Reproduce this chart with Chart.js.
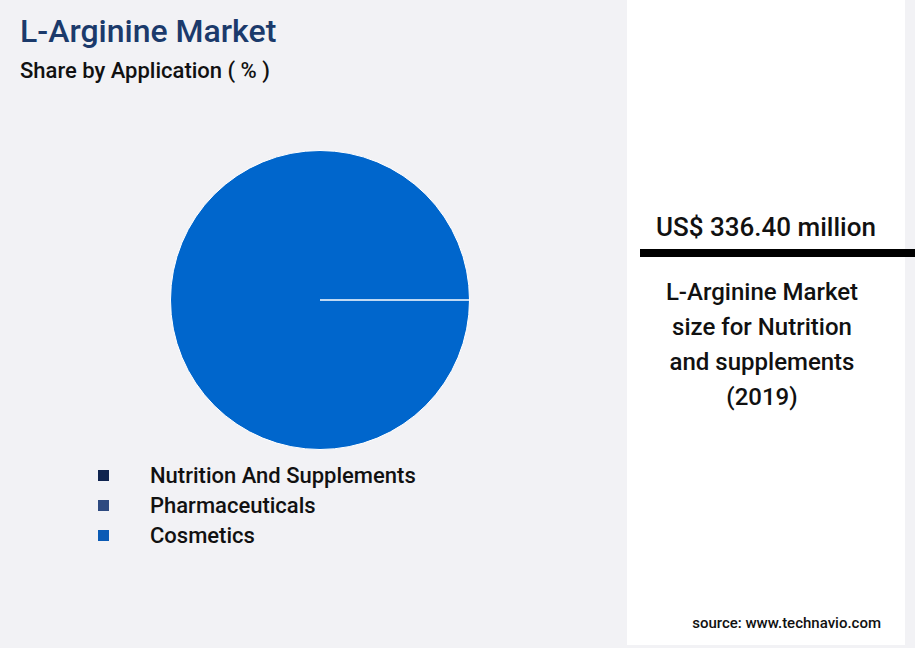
<!DOCTYPE html>
<html><head><meta charset="utf-8">
<script src="https://cdn.jsdelivr.net/npm/chart.js@4/dist/chart.umd.min.js"></script>
<style>
body{margin:0;width:915px;height:648px;background:#f2f2f5;font-family:Roboto,sans-serif;position:relative;overflow:hidden}
#title{position:absolute;left:20px;top:12px;font-size:32px;font-weight:500;color:#1b3a6b}
#sub{position:absolute;left:20px;top:58px;font-size:22px;font-weight:500;color:#111}
#pie{position:absolute;left:166px;top:146px;width:308px;height:308px}
#legend{position:absolute;left:98px;top:460px;font-size:22px;font-weight:500;color:#111}
.row{height:30px;display:flex;align-items:center}
.sw{width:11px;height:11px;margin-right:41px}
#panel{position:absolute;left:627px;top:0;width:278px;height:645px;background:#fff}
#big{position:absolute;left:0;width:278px;top:212px;text-align:center;font-size:26px;font-weight:500;color:#111}
#bar{position:absolute;left:13px;top:249px;width:275px;height:8px;background:#000}
#desc{position:absolute;left:0;width:270px;top:275px;text-align:center;font-size:24px;font-weight:500;line-height:35px;color:#111}
#src{position:absolute;right:24px;top:614px;font-size:15px;font-weight:500;color:#111}
</style></head><body>
<div id="title">L-Arginine Market</div>
<div id="sub">Share by Application ( % )</div>
<div id="pie"><canvas id="c"></canvas></div>
<div id="legend"></div>
<div id="panel">
<div id="big">US$ 336.40 million</div>
<div id="bar"></div>
<div id="desc">L-Arginine Market<br>size for Nutrition<br>and supplements<br>(2019)</div>
<div id="src">source: www.technavio.com</div>
</div>
<script>
const categories = ['Nutrition And Supplements', 'Pharmaceuticals', 'Cosmetics'];
const shares = [0, 0, 100];
const legendColors = ['#10244f', '#2e4a80', '#0b5bb5'];
const sliceColors = ['#10244f', '#2e4a80', '#0066cc'];

const legend = document.getElementById('legend');
for (let i = 0; i < categories.length; i++) {
    const row = document.createElement('div');
    row.className = 'row';
    row.innerHTML = `<span class="sw" style="background:${legendColors[i]}"></span>${categories[i]}`;
    legend.appendChild(row);
}

new Chart(document.getElementById('c'), {
    type: 'pie',
    data: {
        labels: categories,
        datasets: [{
            data: shares,
            backgroundColor: sliceColors,
            borderColor: '#ffffff',
            borderWidth: 1
        }]
    },
    options: {
        responsive: true,
        maintainAspectRatio: false,
        animation: false,
        rotation: 90,
        layout: { padding: 4 },
        plugins: { legend: { display: false }, tooltip: { enabled: false } }
    }
});
</script>
</body></html>
